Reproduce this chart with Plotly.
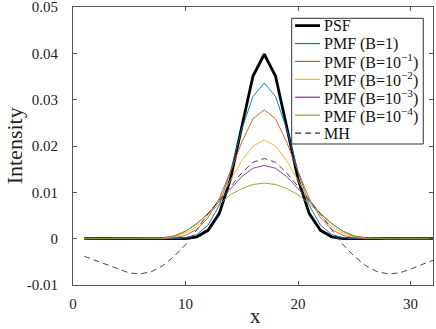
import plotly.graph_objects as go

x = list(range(1, 33))

psf = [0, 0, 0, 0, 0, 0, 0, 0, 0, 0, 0.0004, 0.0018, 0.0054, 0.0129, 0.0241, 0.0351,
       0.0398, 0.0351, 0.0241, 0.0129, 0.0054, 0.0018, 0.0004, 0, 0, 0, 0, 0, 0, 0, 0, 0]
pmf_b1 = [0, 0, 0, 0, 0, 0, 0, 0, 0, 0.0002, 0.0009, 0.0029, 0.0072, 0.0146, 0.0236, 0.0307,
          0.0336, 0.0307, 0.0236, 0.0146, 0.0072, 0.0029, 0.0009, 0.0002, 0, 0, 0, 0, 0, 0, 0, 0]
pmf_b01 = [0, 0, 0, 0, 0, 0, 0, 0, 0.0002, 0.0007, 0.0020, 0.0045, 0.0087, 0.0145, 0.0208, 0.0259,
           0.0278, 0.0259, 0.0208, 0.0145, 0.0087, 0.0045, 0.0020, 0.0007, 0.0002, 0, 0, 0, 0, 0, 0, 0]
pmf_b001 = [0, 0, 0, 0, 0, 0, 0, 0.0001, 0.0004, 0.0012, 0.0026, 0.0050, 0.0084, 0.0126, 0.0168, 0.0200,
            0.0213, 0.0200, 0.0168, 0.0126, 0.0084, 0.0050, 0.0026, 0.0012, 0.0004, 0.0001, 0, 0, 0, 0, 0, 0]
pmf_b1e3 = [0, 0, 0, 0, 0, 0, 0, 0.0002, 0.0006, 0.0016, 0.0032, 0.0054, 0.0080, 0.0108, 0.0134, 0.0152,
            0.0158, 0.0152, 0.0134, 0.0108, 0.0080, 0.0054, 0.0032, 0.0016, 0.0006, 0.0002, 0, 0, 0, 0, 0, 0]
pmf_b1e4 = [0, 0, 0, 0, 0, 0, 0, 0.0001, 0.0005, 0.0016, 0.0033, 0.0053, 0.0075, 0.0095, 0.0108, 0.0117,
            0.0120, 0.0117, 0.0108, 0.0095, 0.0075, 0.0053, 0.0033, 0.0016, 0.0005, 0.0001, 0, 0, 0, 0, 0, 0]
mh = [-0.0038, -0.0047, -0.0056, -0.0066, -0.0074, -0.0076, -0.0071, -0.0058, -0.0038, -0.0013,
      0.0019, 0.0054, 0.0082, 0.0112, 0.0142, 0.0165, 0.0173, 0.0165, 0.0142, 0.0112, 0.0082,
      0.0054, 0.0019, -0.0013, -0.0038, -0.0058, -0.0071, -0.0076, -0.0074, -0.0066, -0.0056, -0.0047]

x_ticks = [0, 10, 20, 30]
y_ticks = [-0.01, 0, 0.01, 0.02, 0.03, 0.04, 0.05]
y_tick_labels = ["-0.01", "0", "0.01", "0.02", "0.03", "0.04", "0.05"]

series = [
    ("PSF", psf, "black", 2.8, "solid"),
    ("PMF (B=1)", pmf_b1, "#0072BD", 0.9, "solid"),
    ("PMF (B=10<sup>−1</sup>)", pmf_b01, "#D95319", 0.9, "solid"),
    ("PMF (B=10<sup>−2</sup>)", pmf_b001, "#EDB120", 0.9, "solid"),
    ("PMF (B=10<sup>−3</sup>)", pmf_b1e3, "#7E2F8E", 0.9, "solid"),
    ("PMF (B=10<sup>−4</sup>)", pmf_b1e4, "#77AC30", 0.9, "solid"),
    ("MH", mh, "#333333", 0.9, "6px,4px"),
]

fig = go.Figure()
for name, y, color, width, dash in series:
    fig.add_trace(
        go.Scatter(
            x=x,
            y=y,
            mode="lines",
            name=name,
            showlegend=False,
            line=dict(color=color, width=width, dash=dash),
        )
    )

font_family = "Liberation Serif"

# MATLAB-style legend: tighter row spacing than plotly's own legend allows
leg_x0, leg_x1 = 0.6075, 0.973
leg_top, leg_bottom = 0.9594, 0.5072
row_top, row_step = 0.9330, 0.0644
fig.add_shape(type="rect", xref="paper", yref="paper",
              x0=leg_x0, x1=leg_x1, y0=leg_bottom, y1=leg_top,
              line=dict(color="#333333", width=1), fillcolor="white", layer="above")
for i, (name, y, color, width, dash) in enumerate(series):
    yy = row_top - i * row_step
    fig.add_shape(type="line", xref="paper", yref="paper",
                  x0=0.617, x1=0.686, y0=yy, y1=yy, layer="above",
                  line=dict(color=color, width=width if i == 0 else 1.2, dash=dash))
    fig.add_annotation(x=0.692, y=yy, xref="paper", yref="paper", text=name,
                       showarrow=False, xanchor="left", yanchor="middle",
                       font=dict(family=font_family, size=16, color="#111111"))

# axis titles
fig.add_annotation(x=-0.163, y=0.5, xref="paper", yref="paper", text="Intensity",
                   textangle=-90, showarrow=False, xanchor="center", yanchor="middle",
                   borderpad=0, font=dict(family=font_family, size=22, color="#222222"))
fig.add_annotation(x=0.5056, y=-0.11, xref="paper", yref="paper", text="x",
                   showarrow=False, xanchor="center", yanchor="middle",
                   borderpad=0, font=dict(family=font_family, size=21, color="#222222"))

axis_style = dict(
    showgrid=False,
    zeroline=False,
    showline=True,
    linecolor="#555555",
    linewidth=1,
    mirror="ticks",
    ticks="inside",
    ticklen=4,
    tickcolor="#555555",
    automargin=False,
    ticklabeloverflow="allow",
    tickfont=dict(family=font_family, size=15, color="#222222"),
)

fig.update_layout(
    width=436,
    height=329,
    margin=dict(l=73, r=3, t=7, b=44),
    paper_bgcolor="white",
    plot_bgcolor="white",
    font=dict(family=font_family, color="#222222"),
    xaxis=dict(
        range=[0, 32],
        tickvals=x_ticks,
        ticklabelstandoff=5,
        **axis_style,
    ),
    yaxis=dict(
        range=[-0.01, 0.0500001],
        tickvals=y_ticks,
        ticktext=y_tick_labels,
        ticklabelstandoff=11,
        **axis_style,
    ),
    showlegend=False,
)

fig.write_html("out.html", config={"displayModeBar": False},
               post_script="document.body.style.margin='0';")
